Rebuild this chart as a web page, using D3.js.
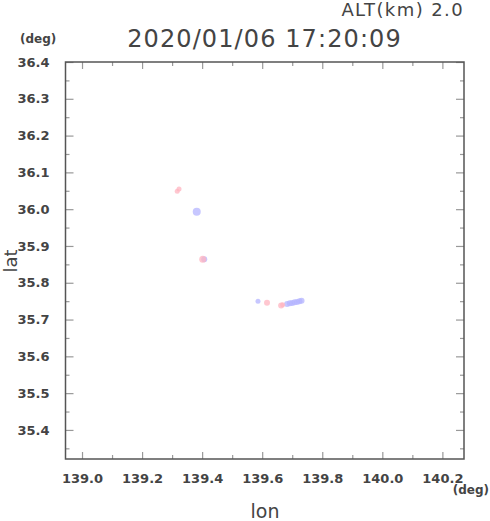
<!DOCTYPE html>
<html><head><meta charset="utf-8">
<script src="https://cdn.jsdelivr.net/npm/d3@7"></script>
<style>body{margin:0;background:#fff;}svg{display:block;}</style>
</head><body>
<script>
const title = "2020/01/06 17:20:09";
const altLabel = "ALT(km) 2.0";
const lonTicks = [139.0, 139.2, 139.4, 139.6, 139.8, 140.0, 140.2];
const lonMinor = [139.1, 139.3, 139.5, 139.7, 139.9, 140.1];
const latTicks = [35.4, 35.5, 35.6, 35.7, 35.8, 35.9, 36.0, 36.1, 36.2, 36.3, 36.4];
const latMinor = [35.35, 35.45, 35.55, 35.65, 35.75, 35.85, 35.95, 36.05, 36.15, 36.25, 36.35];
// points: lon, lat
const blueLon = [139.382, 139.407, 139.586, 139.683, 139.692, 139.700, 139.708, 139.716, 139.724, 139.731];
const blueLat = [35.993, 35.864, 35.750, 35.742, 35.744, 35.745, 35.747, 35.748, 35.750, 35.751];
const blueR   = [4, 3, 2.5, 3, 3, 3, 3, 3, 3, 3];
const pinkLon = [139.317, 139.323, 139.402, 139.616, 139.663, 139.668];
const pinkLat = [36.049, 36.055, 35.864, 35.746, 35.738, 35.740];
const pinkR   = [2.5, 2.5, 3.5, 3, 3, 2.5];

const W = 490, H = 521;
const L = 65.5, R = 464, T = 62, B = 459;
const svg = d3.select("body").append("svg").attr("width", W).attr("height", H);
const x = d3.scaleLinear().domain([138.945, 140.272]).range([L, R]);
const y = d3.scaleLinear().domain([35.321, 36.4]).range([B, T]);

const tickCol = "#999", frameCol = "#555", textCol = "#444";
const bold = "DejaVu Sans";

function styleAx(g){ g.select(".domain").remove(); g.selectAll("line").attr("stroke", tickCol).attr("stroke-width",1.2); }

// bottom major with labels
svg.append("g").attr("transform",`translate(0,${B})`)
  .call(d3.axisBottom(x).tickValues(lonTicks).tickSize(-7).tickPadding(15).tickFormat(d3.format(".1f")))
  .call(styleAx)
  .call(g=>g.selectAll("text").attr("fill",textCol).attr("font-family",bold).attr("font-weight","bold").attr("font-size",13));
svg.append("g").attr("transform",`translate(0,${B})`)
  .call(d3.axisBottom(x).tickValues(lonMinor).tickSize(-4).tickFormat("")).call(styleAx);
// top
svg.append("g").attr("transform",`translate(0,${T})`)
  .call(d3.axisTop(x).tickValues(lonTicks).tickSize(-7).tickFormat("")).call(styleAx);
svg.append("g").attr("transform",`translate(0,${T})`)
  .call(d3.axisTop(x).tickValues(lonMinor).tickSize(-4).tickFormat("")).call(styleAx);
// left
svg.append("g").attr("transform",`translate(${L},0)`)
  .call(d3.axisLeft(y).tickValues(latTicks).tickSize(-8).tickPadding(16).tickFormat(d3.format(".1f")))
  .call(styleAx)
  .call(g=>g.selectAll("text").attr("fill",textCol).attr("font-family",bold).attr("font-weight","bold").attr("font-size",13));
svg.append("g").attr("transform",`translate(${L},0)`)
  .call(d3.axisLeft(y).tickValues(latMinor).tickSize(-4).tickFormat("")).call(styleAx);
// right
svg.append("g").attr("transform",`translate(${R},0)`)
  .call(d3.axisRight(y).tickValues(latTicks).tickSize(-8).tickFormat("")).call(styleAx);
svg.append("g").attr("transform",`translate(${R},0)`)
  .call(d3.axisRight(y).tickValues(latMinor).tickSize(-4).tickFormat("")).call(styleAx);

// frame
svg.append("rect").attr("x",L).attr("y",T).attr("width",R-L).attr("height",B-T)
  .attr("fill","none").attr("stroke",frameCol).attr("stroke-width",1.5);

// points
const blue = blueLon.map((d,i)=>({lon:d, lat:blueLat[i], r:blueR[i]}));
const pink = pinkLon.map((d,i)=>({lon:d, lat:pinkLat[i], r:pinkR[i]}));
svg.append("g").selectAll("circle").data(blue).join("circle")
  .attr("cx",d=>x(d.lon)).attr("cy",d=>y(d.lat)).attr("r",d=>d.r)
  .attr("fill","#b4b4ff").attr("fill-opacity",0.75);
svg.append("g").selectAll("circle").data(pink).join("circle")
  .attr("cx",d=>x(d.lon)).attr("cy",d=>y(d.lat)).attr("r",d=>d.r)
  .attr("fill","#ffb4c0").attr("fill-opacity",0.75);

// texts
svg.append("text").attr("x",264.5).attr("y",47).attr("text-anchor","middle")
  .attr("font-family","DejaVu Sans").attr("font-size",24).attr("letter-spacing",1.1)
  .attr("fill",textCol).text(title);
svg.append("text").attr("x",464).attr("y",16).attr("text-anchor","end")
  .attr("font-family","DejaVu Sans").attr("font-size",18).attr("letter-spacing",1.4)
  .attr("fill",textCol).text(altLabel);
svg.append("text").attr("x",20).attr("y",43)
  .attr("font-family",bold).attr("font-weight","bold").attr("font-size",12)
  .attr("fill",textCol).text("(deg)");
svg.append("text").attr("x",489).attr("y",494).attr("text-anchor","end")
  .attr("font-family",bold).attr("font-weight","bold").attr("font-size",12)
  .attr("fill",textCol).text("(deg)");
svg.append("text").attr("x",265).attr("y",518).attr("text-anchor","middle")
  .attr("font-family","DejaVu Sans").attr("font-size",19)
  .attr("fill",textCol).text("lon");
svg.append("text").attr("transform","translate(17,261) rotate(-90)").attr("text-anchor","middle")
  .attr("font-family","DejaVu Sans").attr("font-size",18)
  .attr("fill",textCol).text("lat");
</script>
</body></html>
